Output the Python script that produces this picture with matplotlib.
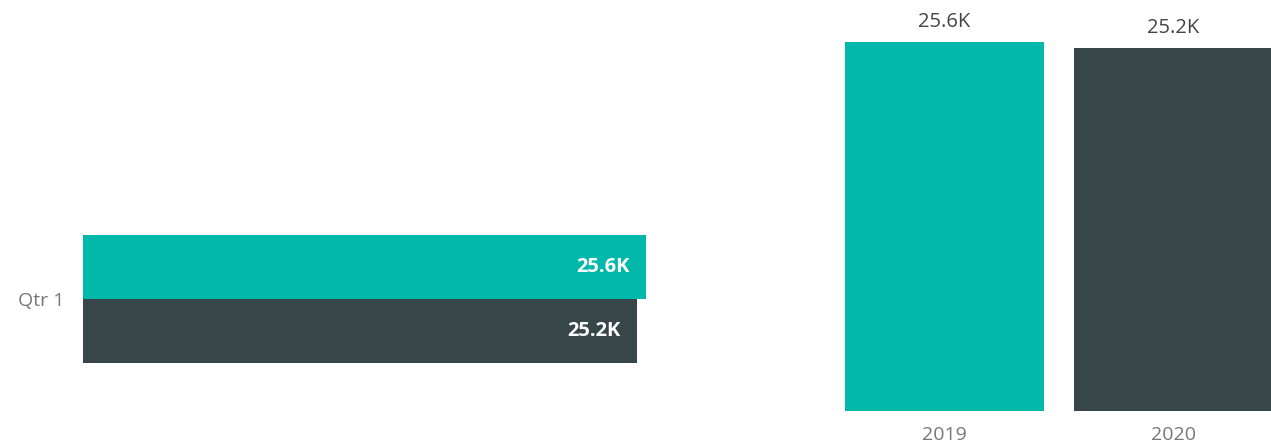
import matplotlib.pyplot as plt

# data
quarters = ["Qtr 1"]
years = ["2019", "2020"]
values = [25600, 25200]
labels = ["25.6K", "25.2K"]
colors = ["#01B8AA", "#374649"]

W, H = 1271, 444
fig = plt.figure(figsize=(W / 100, H / 100), dpi=100)
plt.rcParams['font.family'] = ['Open Sans', 'DejaVu Sans']

# left: clustered bar (horizontal)
axl = fig.add_axes([83 / W, (H - 363) / H, 563 / W, 128 / H])
ypos = [0.25, -0.25]
for y, v, c, lab in zip(ypos, values, colors, labels):
    axl.barh(y, v, height=0.5, color=c)
    axl.annotate(lab, (v, y), xytext=(-12, 0), textcoords="offset points",
                 ha="right", va="center", color="white", fontsize=14.5,
                 fontweight="bold")
axl.set_xlim(0, 25600)
axl.set_ylim(-0.5, 0.5)
axl.set_yticks([0])
axl.set_yticklabels(quarters, color="#777777", fontsize=14)
axl.tick_params(axis="y", length=0, pad=13.5)
axl.set_xticks([])
for s in axl.spines.values():
    s.set_visible(False)

# right: clustered column
axr = fig.add_axes([845 / W, (H - 411) / H, 428 / W, 369 / H])
xpos = [0, 1]
for x, v, c, lab in zip(xpos, values, colors, labels):
    axr.bar(x, v, width=0.869, color=c)
    axr.annotate(lab, (x, v), xytext=(0, 7), textcoords="offset points",
                 ha="center", va="bottom", color="#444444", fontsize=14.5)
axr.set_xlim(-0.4345, 1.4345)
axr.set_ylim(0, 25600)
axr.set_xticks(xpos)
axr.set_xticklabels(years, color="#777777", fontsize=14)
axr.tick_params(axis="x", length=0, pad=11)
axr.set_yticks([])
for s in axr.spines.values():
    s.set_visible(False)

fig.savefig("out.png", dpi=100)
